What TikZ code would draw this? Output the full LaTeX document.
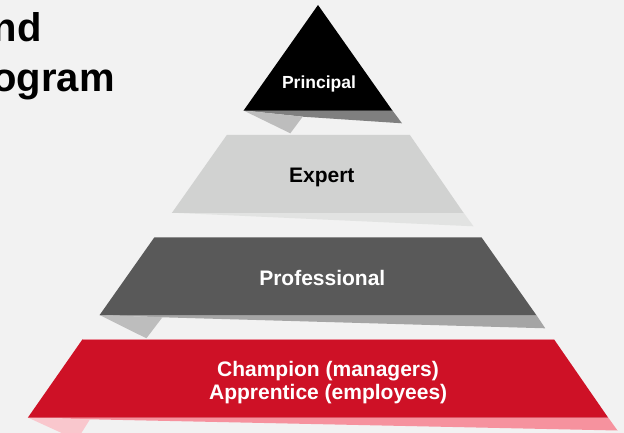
\documentclass[tikz,border=0pt]{standalone}
\usepackage{fontspec}
\setmainfont{Liberation Sans}
\usepackage{tikz}

\definecolor{bgGray}{HTML}{F2F2F2}
\definecolor{topShade}{HTML}{7F7F7F}
\definecolor{foldGray}{HTML}{BDBDBD}
\definecolor{expertFill}{HTML}{D1D2D1}
\definecolor{expertShade}{HTML}{E2E3E2}
\definecolor{proFill}{HTML}{595959}
\definecolor{proShade}{HTML}{A5A5A5}
\definecolor{champRed}{HTML}{CE1126}
\definecolor{champShade}{HTML}{F6929E}
\definecolor{champFold}{HTML}{F9C7CD}
\definecolor{champEdge}{HTML}{E98A96}

\tikzset{
  lbl/.style={inner sep=0pt,anchor=base,font=\bfseries\fontsize{21}{24}\selectfont},
  ttl/.style={inner sep=0pt,anchor=base east,font=\bfseries\fontsize{40}{48}\selectfont}
}

\begin{document}
\begin{tikzpicture}[x=1pt,y=-1pt]
\useasboundingbox (0,0) rectangle (624,433);
\clip (0,0) rectangle (624,433);
\fill [bgGray] (0,0) rectangle (624,433);

% to write the title, cut at the left edge
\node [ttl] (ttlA) at (42,42) {nd};
\node [ttl] (ttlB) at (115,91.7) {ogram};

% to draw Principal (top triangle)
\fill [topShade] (243.5,110.5) -- (392.5,110.5) -- (402,123.3) -- (302.7,116.7) -- cycle;
\fill [foldGray] (243.5,110.5) -- (290.3,133.3) -- (302.7,116.7) -- cycle;
\fill [black] (318,5) -- (392.5,110.7) -- (243.5,110.7) -- cycle;
\node [lbl,white,font=\bfseries\fontsize{17.5}{20}\selectfont] (principal) at (319,88.3) {Principal};

% to draw Expert
\fill [expertShade] (171.9,212.7) -- (463.6,212.7) -- (473.5,226.3) -- cycle;
\fill [expertFill] (226.8,135) -- (409.9,135) -- (463.6,212.9) -- (171.9,212.9) -- cycle;
\node [lbl,black] (expert) at (321.8,182.3) {Expert};

% to draw Professional
\fill [proShade] (99.5,315) -- (536.4,315) -- (545.2,328.3) -- (162.4,317.3) -- cycle;
\fill [foldGray] (99.5,315) -- (146.4,338.3) -- (162.4,317.3) -- cycle;
\fill [proFill] (154.4,237.3) -- (481.5,237.3) -- (536.4,315.2) -- (99.5,315.2) -- cycle;
\node [lbl,white] (professional) at (322.3,285) {Professional};

% to draw Champion / Apprentice (bottom)
\fill [champShade] (27.8,417.5) -- (608.2,417.5) -- (617.5,430.5) -- (90,419.3) -- cycle;
\fill [champFold] (27.8,417.5) -- (77,440) -- (90,419.3) -- cycle;
\fill [champRed] (82.5,339.3) -- (554,339.3) -- (608.2,417.7) -- (27.8,417.7) -- cycle;
\draw [champEdge,line width=0.7pt] (82.5,339.6) -- (554,339.6);
\node [lbl,white] (champion) at (328,376.7) {Champion (managers)};
\node [lbl,white] (apprentice) at (328.2,399.3) {Apprentice (employees)};
\end{tikzpicture}
\end{document}
